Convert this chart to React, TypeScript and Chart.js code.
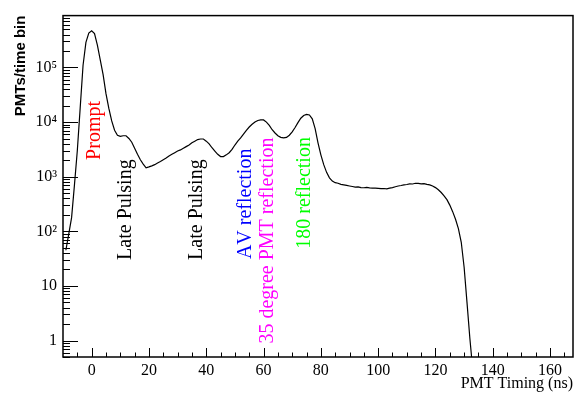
import React, { useEffect, useRef } from 'react';
import { Chart, registerables } from 'chart.js';

Chart.register(...registerables);

// PMT hit time (ns), bin centres
const timesNs = [
  -9, -8, -7, -6, -5, -4, -3, -2, -1, 0, 1, 2, 3, 4, 5, 6, 7, 8, 9, 10,
  11, 12, 13, 14, 15, 16, 17, 18, 19, 20, 21, 22, 23, 24, 25, 26, 27, 28, 29, 30,
  31, 32, 33, 34, 35, 36, 37, 38, 39, 40, 41, 42, 43, 44, 45, 46, 47, 48, 49, 50,
  51, 52, 53, 54, 55, 56, 57, 58, 59, 60, 61, 62, 63, 64, 65, 66, 67, 68, 69, 70,
  71, 72, 73, 74, 75, 76, 77, 78, 79, 80, 81, 82, 83, 84, 85, 86, 87, 88, 89, 90,
  91, 92, 93, 94, 95, 96, 97, 98, 99, 100, 101, 102, 103, 104, 105, 106, 107, 108, 109, 110,
  111, 112, 113, 114, 115, 116, 117, 118, 119, 120, 121, 122, 123, 124, 125, 126, 127, 128, 129, 130,
  131, 132, 133,
];

// PMTs per time bin
const pmtCounts = [
  45, 89, 178, 708, 3020, 18200, 109600, 288400, 426600, 467700,
  416900, 257000, 138000, 74100, 33100, 17800, 10500, 7080, 5750, 5500,
  5620, 5620, 5010, 4270, 3310, 2570, 2040, 1700, 1450, 1510,
  1580, 1660, 1780, 1900, 2040, 2190, 2400, 2570, 2750, 2950,
  3090, 3310, 3550, 3800, 4170, 4470, 4790, 4900, 4900, 4470,
  3980, 3390, 2950, 2570, 2340, 2340, 2510, 2750, 3160, 3800,
  4470, 5130, 6030, 7080, 8130, 9120, 10000, 10700, 10960, 10960,
  10000, 8710, 7240, 6310, 5620, 5250, 5130, 5250, 5750, 6610,
  7940, 9770, 11750, 13180, 13800, 13490, 11480, 7590, 4170, 2510,
  1660, 1200, 955, 832, 776, 759, 724, 708, 692, 676,
  661, 646, 650, 631, 628, 635, 625, 617, 620, 612,
  603, 608, 600, 617, 631, 655, 676, 690, 708, 720,
  741, 735, 759, 752, 741, 745, 724, 708, 676, 631,
  575, 513, 447, 380, 302, 229, 166, 112, 63, 22,
  5, 1.1, 0.3,
];

const xTickValues = [0, 20, 40, 60, 80, 100, 120, 140, 160];
const yTickValues = [1, 10, 100, 1000, 10000, 100000];
const yTickLabels = ['1', '10', '10²', '10³', '10⁴', '10⁵'];

// Rotated labels: text, colour, time (ns) and count where the text starts
const noteTexts = ['Prompt', 'Late Pulsing', 'Late Pulsing', 'AV reflection', '35 degree PMT reflection', '180 reflection'];
const noteColors = ['#ff0000', '#000000', '#000000', '#0000ff', '#ff00ff', '#00ff00'];
const noteTimes = [1.1, 12, 36.7, 53.8, 61.4, 74.3];
const noteCounts = [2030, 30, 30, 31, 0.88, 48];

const serif = '"Liberation Serif", "Times New Roman", serif';

const rootStylePlugin = {
  id: 'rootStyle',
  afterDatasetsDraw(chart: any) {
    const { ctx, chartArea: a, scales } = chart;
    const xs = scales.x;
    const ys = scales.y;
    ctx.save();
    ctx.strokeStyle = '#000';
    ctx.lineWidth = 1;
    const seg = (x1: number, y1: number, x2: number, y2: number) => {
      ctx.beginPath();
      ctx.moveTo(x1, y1);
      ctx.lineTo(x2, y2);
      ctx.stroke();
    };
    // y ticks (log, inside)
    for (let e = -1; e <= 6; e++) {
      for (let m = 1; m <= 9; m++) {
        const v = m * Math.pow(10, e);
        if (v < ys.min || v > ys.max) continue;
        const py = Math.round(ys.getPixelForValue(v)) + 0.5;
        seg(a.left, py, a.left + (m === 1 ? 15 : 7), py);
      }
    }
    // x ticks (inside)
    for (let t = -5; t < xs.max; t += 5) {
      const px = Math.round(xs.getPixelForValue(t)) + 0.5;
      seg(px, a.bottom, px, a.bottom - (t % 20 === 0 ? 9 : 4.5));
    }
    // frame
    ctx.lineWidth = 1.5;
    ctx.strokeRect(a.left, a.top, a.right - a.left, a.bottom - a.top);

    // annotations
    ctx.font = `20px ${serif}`;
    try { (ctx as any).fontKerning = 'none'; } catch (e) {}
    ctx.textAlign = 'left';
    ctx.textBaseline = 'middle';
    for (let i = 0; i < noteTexts.length; i++) {
      const px = xs.getPixelForValue(noteTimes[i]);
      const py = ys.getPixelForValue(noteCounts[i]);
      ctx.save();
      ctx.translate(px, py);
      ctx.rotate(-Math.PI / 2);
      ctx.fillStyle = noteColors[i];
      ctx.fillText(noteTexts[i], 0, 0);
      ctx.restore();
    }
    ctx.restore();
  },
};

export default function App() {
  const canvasRef = useRef<HTMLCanvasElement | null>(null);

  useEffect(() => {
    document.body.style.margin = '0';
    const canvas = canvasRef.current;
    if (!canvas) return;
    const chart = new Chart(canvas, {
      type: 'line',
      data: {
        datasets: [
          {
            data: timesNs.map((t, i) => ({ x: t, y: pmtCounts[i] })),
            borderColor: '#000',
            borderWidth: 1.2,
            pointRadius: 0,
            fill: false,
            tension: 0,
          },
        ],
      },
      options: {
        responsive: false,
        animation: false,
        devicePixelRatio: 1,
        layout: { padding: { top: 11, right: 1, left: 0, bottom: 0 } },
        plugins: { legend: { display: false }, tooltip: { enabled: false } },
        scales: {
          x: {
            type: 'linear',
            min: -10,
            max: 168,
            grid: { display: false, drawTicks: false },
            border: { display: false },
            afterBuildTicks: (s: any) => {
              s.ticks = xTickValues.map((v) => ({ value: v }));
            },
            afterFit: (s: any) => {
              s.height = 39;
            },
            ticks: {
              font: { family: serif, size: 16 },
              color: '#000',
              padding: 4,
              maxRotation: 0,
              autoSkip: false,
              callback: (v: any) => String(v),
            },
            title: {
              display: true,
              text: 'PMT Timing (ns)',
              align: 'end',
              color: '#000',
              font: { family: serif, size: 16 },
              padding: { top: 0, bottom: 3 },
            },
          },
          y: {
            type: 'logarithmic',
            min: 0.5,
            max: 890000,
            grid: { display: false, drawTicks: false },
            border: { display: false },
            afterBuildTicks: (s: any) => {
              s.ticks = yTickValues.map((v) => ({ value: v }));
            },
            afterFit: (s: any) => {
              s.width = 63;
            },
            ticks: {
              font: { family: serif, size: 16 },
              color: '#000',
              padding: 6,
              autoSkip: false,
              callback: (v: any) => {
                const k = yTickValues.indexOf(Number(v));
                return k >= 0 ? yTickLabels[k] : '';
              },
            },
            title: {
              display: true,
              text: 'PMTs/time bin',
              align: 'end',
              color: '#000',
              font: { family: '"Liberation Sans", Arial, sans-serif', size: 15, weight: 'bold' },
              padding: { top: 12, bottom: 0 },
            },
          },
        },
      },
      plugins: [rootStylePlugin],
    } as any);
    return () => chart.destroy();
  }, []);

  return (
    <div style={{ width: 574, height: 396 }}>
      <canvas ref={canvasRef} width={574} height={396} style={{ display: 'block' }} />
    </div>
  );
}
